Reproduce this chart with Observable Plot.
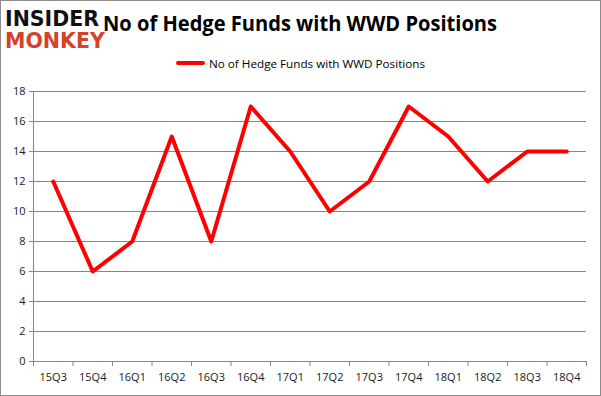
<!DOCTYPE html>
<html>
<head>
<meta charset="utf-8">
<script src="https://cdn.jsdelivr.net/npm/d3@7"></script>
<script src="https://cdn.jsdelivr.net/npm/@observablehq/plot@0.6"></script>
<style>
  html, body { margin: 0; padding: 0; background: #fff; }
  #frame { position: relative; width: 601px; height: 396px; box-sizing: border-box; border: 1px solid #8c8c8c; overflow: hidden; font-family: "Open Sans", "Noto Sans", sans-serif; }
  #logo { position: absolute; left: 4px; top: 6px; z-index: 2; font-family: "DejaVu Sans", sans-serif; font-weight: 900; font-size: 19px; line-height: 20px; white-space: nowrap; transform-origin: 0 0; transform: scale(1.08, 1.12); }
  #logo .l1 { color: #111; }
  #logo .l2 { color: #d6412b; }
  #title { position: absolute; left: 0; top: 8px; width: 599px; text-align: center; font-weight: 700; font-size: 21px; color: #000; white-space: nowrap; }
  #title span { display: inline-block; transform-origin: 50% 50%; }
  #legend { position: absolute; left: 175px; top: 53px; height: 18px; display: flex; align-items: center; font-size: 11.5px; color: #000; white-space: nowrap; }
  #legend .sw { width: 29px; height: 4px; background: #ff0000; border-radius: 2px; margin-right: 4px; }
  #chart { position: absolute; left: 0; top: 76px; }
</style>
</head>
<body>
<div id="frame">
  <div id="logo"><span class="l1">INSIDER</span><br><span class="l2">MONKEY</span></div>
  <div id="title"><span id="tspan">No of Hedge Funds with WWD Positions</span></div>
  <div id="legend"><div class="sw"></div><span id="lspan">No of Hedge Funds with WWD Positions</span></div>
  <div id="chart"></div>
</div>
<script>
const quarters = ["15Q3","15Q4","16Q1","16Q2","16Q3","16Q4","17Q1","17Q2","17Q3","17Q4","18Q1","18Q2","18Q3","18Q4"];
const funds = [12, 6, 8, 15, 8, 17, 14, 10, 12, 17, 15, 12, 14, 14];
const yTicks = [0, 2, 4, 6, 8, 10, 12, 14, 16, 18];

const data = quarters.map((q, i) => ({q, i: i + 0.5, v: funds[i]}));
const boundaries = d3.range(quarters.length + 1);
const grey = "#868686";

const plot = Plot.plot({
  width: 599,
  height: 318,
  marginTop: 14,
  marginBottom: 34,
  marginLeft: 32,
  marginRight: 14,
  style: {fontFamily: "'Open Sans', 'Noto Sans', sans-serif", fontSize: "11px", color: "#1a1a1a", background: "#fff"},
  x: {domain: [0, quarters.length], axis: null},
  y: {domain: [0, 18], axis: null},
  marks: [
    Plot.ruleY(yTicks, {x1: 0, x2: quarters.length, stroke: grey, strokeWidth: 1, strokeOpacity: 1}),
    Plot.axisY(yTicks, {tickSize: 4, tickPadding: 4, stroke: grey, strokeOpacity: 1, label: null, fill: "#1a1a1a"}),
    Plot.ruleX([0], {y1: 0, y2: 18, stroke: grey}),
    Plot.axisX(boundaries, {tickSize: 5, tickFormat: () => "", stroke: grey, strokeOpacity: 1, label: null}),
    Plot.axisX(data.map(d => d.i), {tickSize: 0, tickPadding: 12, tickFormat: (d) => quarters[Math.round(d - 0.5)], label: null, fill: "#1a1a1a"}),
    Plot.line(data, {x: "i", y: "v", stroke: "#ff0000", strokeWidth: 4, strokeLinejoin: "round", strokeLinecap: "round"})
  ]
});
document.getElementById("chart").appendChild(plot);

function fitWidth(el, target) {
  const w = el.getBoundingClientRect().width;
  el.style.transform = `scaleX(${target / w})`;
}
fitWidth(document.getElementById("tspan"), 394);
const ls = document.getElementById("lspan");
ls.style.display = "inline-block";
ls.style.transformOrigin = "0 50%";
fitWidth(ls, 216);
</script>
</body>
</html>
